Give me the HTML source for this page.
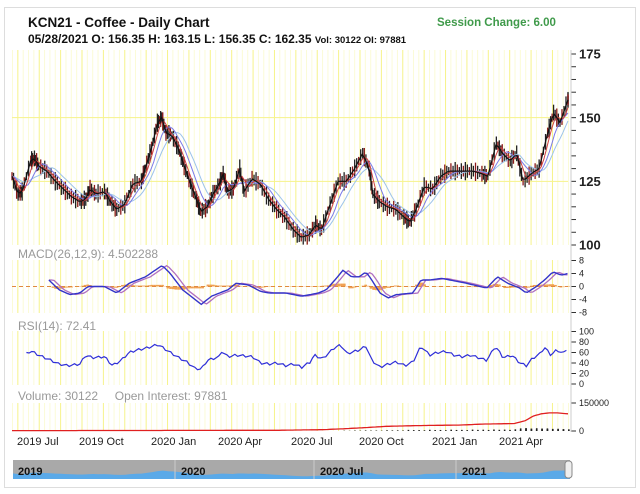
<!DOCTYPE html>
<html><head><meta charset="utf-8"><style>
body{margin:0;background:#fff;font-family:"Liberation Sans","DejaVu Sans",sans-serif;}
svg{display:block}
</style></head><body>
<svg id="c" width="640" height="494" xmlns="http://www.w3.org/2000/svg">
<rect x="4.5" y="7.5" width="631" height="480" fill="#fff" stroke="#ddd"/>
<text x="28" y="27" font-size="13.5" font-weight="bold" fill="#111">KCN21 - Coffee - Daily Chart</text>
<text x="28" y="43" font-size="12" font-weight="bold" fill="#111">05/28/2021 O: 156.35 H: 163.15 L: 156.35 C: 162.35 <tspan font-size="9.5">Vol: 30122 OI: 97881</tspan></text>
<text x="437" y="26" font-size="11.5" font-weight="bold" fill="#3f9a4a">Session Change: 6.00</text>
<g id="grid"></g>
<g id="marks"></g>
<text x="18" y="258" font-size="12" fill="#999">MACD(26,12,9): 4.502288</text>
<text x="18" y="330" font-size="12" fill="#999">RSI(14): 72.41</text>
<text x="18" y="400" font-size="12" fill="#999">Volume: 30122&#160;&#160;&#160;&#160;&#160;Open Interest: 97881</text>
<g id="axes"></g>
<g>
<rect x="13" y="460" width="557" height="19" fill="#a9a9a9"/>
<path id="navArea" fill="#5aa9e8"/>
<line x1="175" y1="460" x2="175" y2="479" stroke="#ccc"/>
<line x1="314" y1="460" x2="314" y2="479" stroke="#ccc"/>
<line x1="456" y1="460" x2="456" y2="479" stroke="#ccc"/>
<text x="18" y="475" font-size="11" font-weight="bold" fill="#111">2019</text>
<text x="181" y="475" font-size="11" font-weight="bold" fill="#111">2020</text>
<text x="320" y="475" font-size="11" font-weight="bold" fill="#111">2020 Jul</text>
<text x="462" y="475" font-size="11" font-weight="bold" fill="#111">2021</text>
<rect x="565" y="461" width="7" height="17" rx="3" fill="#eee" stroke="#888"/>
</g>
</svg>
<script>
const priceW=[0,1.15,1.9,3.5,4.2,5,6.5,8.1,9.6,11.1,12.7,13.8,14.6,15.7,17.3,18.4,19.6,21.1,22.6,24.2,24.9,26.1,27.2,28,28.8,29.9,31.1,32.2,33.4,34.5,35.3,36.5,37.6,38.8,39.5,40.3,41.4,42.6,43.4,44.9,46.4,48,49.5,51,52.6,54.1,55.6,56.8,57.9,59.5,61,62.5,64.1,65.6,66.8,67.5,68.7,70.2,71.8,73.3,74.4,75.6,77.1,78.7,80.2,81.7,83.3,84.8,86.3,87.9,89,90.6,91.7,93.2,94.4,95.6,97.1,98.6,100.2,101.3,102.5,104];
const priceV=[127,120,121,133,134,131,129,125,122,119,117,118,122,120,121,117,114,116,124,125,130,138,148,150,144,143,138,131,124,118,113,115,120,124,128,121,122,130,121,126,124,118,114,111,106,103,104,108,106,116,125,125,130,136,130,120,117,115,114,111,109,114,123,122,127,129,129,129,129,128,127,140,136,133,136,125,128,130,144,152,148,157];
const rsiW=[2.7,3.5,5,7.3,8.8,10.4,12.7,13.8,15,17.3,18.8,20.4,21.9,23.5,25,27.3,28.1,29.6,31.2,32.7,34.2,35.4,36.5,38.8,39.2,40.4,41.9,45,46.5,48.1,49.6,51.2,52.7,54.2,55.8,56.5,58.1,60.4,61.5,62.7,65,66.2,67.3,68.8,70.4,71.9,73.5,75,76.5,78.1,79.6,81.2,82.7,84.2,85.8,87.3,88.8,90.4,91.9,93.5,95,96.2,97.3,98.8,99.6,100.8,101.9,103.1,104];
const rsiV=[58,63,55,45,38,35,38,55,50,52,35,45,60,65,68,75,70,60,50,42,30,28,45,52,62,52,55,52,40,38,40,35,38,32,42,55,48,70,74,58,65,72,45,32,38,42,35,42,72,55,60,62,55,52,55,50,45,72,50,55,40,35,48,58,70,55,65,58,70];
const macdW=[6.9,8.8,10.8,12.7,14.2,17.3,19.6,21.9,25,28.1,29.6,31.9,35.4,37.3,40.4,41.9,44.2,46.5,48.1,51.2,54.2,57.3,58.8,60.4,61.9,63.5,65,66.2,67.3,68.8,70.4,71.9,75,76.5,78.1,80.4,81.9,85,88.8,90.8,92.7,95,96.2,98.1,99.6,101.2,102.7,104];
const macdV=[2,-1,-2.5,-2,0,0,-2,1,3,6.5,4,-1,-5.5,-3,-1,1,0.5,-1.5,-2,-2,-3,-2,-1,2,5,3,3,4.5,2,-2,-3.5,-2.5,-2,2,2,2.5,2,1,-0.5,3,1,-0.5,-2,0,2,4.5,3.5,4];
const oiW=[0,30,50,58,62,66,70,76,84,88,94,96,97.5,99,100.5,102,104];
const oiV=[2000,3000,4000,7000,12000,18000,25000,29000,32000,37000,40000,55000,80000,92000,97000,97000,92000];
const volW=[62,64,66,68,70,72,74,76,78,80,82,84,86,88,90,92,94,95,96,97,98,99,100,101,102,103,104];
const volV=[1500,2500,3000,2500,4000,3500,6000,5000,6500,5500,7000,6000,7500,7000,8000,7500,9000,14000,16000,12000,15000,13000,14000,11000,12000,10000,9000];
const yTicks=[100,125,150,175], macdTicks=[8,4,0,-4,-8], rsiTicks=[100,80,60,40,20,0];
const monthLabels=["2019 Jul","2019 Oct","2020 Jan","2020 Apr","2020 Jul","2020 Oct","2021 Jan","2021 Apr"];
const NS='http://www.w3.org/2000/svg';
const X=w=>12+w*(556/104);
const yP=v=>54+(175-v)*(191/75);
const yM=v=>286.5+(-v)*(52/16);
const yR=v=>384-v*0.525;
const yV=v=>431-v*(28/150000);
function el(t,a,p){const e=document.createElementNS(NS,t);for(const k in a)e.setAttribute(k,a[k]);document.getElementById(p).appendChild(e);return e;}
function interp(ws,vs,w){if(w<=ws[0])return vs[0];for(let i=1;i<ws.length;i++){if(w<=ws[i]){const t=(w-ws[i-1])/(ws[i]-ws[i-1]);return vs[i-1]+t*(vs[i]-vs[i-1]);}}return vs[vs.length-1];}
const panels=[[50,245],[260,313],[331,385],[403,431]];
for(let w=0;w<=104;w+=1){
  const x=X(w)+0.5;const strong=(w%4===1);
  panels.forEach(p=>{
    const g=el('line',{x1:x,x2:x,y1:p[0],y2:p[1],stroke:strong?'#f6f38a':'#fbfbd6','stroke-width':1},'grid');
    
    
  });
}
[125,150].forEach(v=>{const g=el('line',{x1:12,x2:568,y1:yP(v),y2:yP(v),stroke:'#f6f38a'},'grid');

});
for(let i=0;i<priceW.length;i++){
  const steps=4;
  for(let s=0;s<steps;s++){
    const w=priceW[i]+s*((i<priceW.length-1?priceW[i+1]-priceW[i]:0)/steps);
    if(w>104)continue;
    const v=interp(priceW,priceV,w);const r=1.6+((i*7+s*3)%5)*0.5;
    const c=el('line',{x1:X(w),x2:X(w),y1:yP(v+r),y2:yP(v-r),stroke:((i+s)%3===0)?'#8b1a1a':'#222','stroke-width':1.3},'marks');
    
    
  }
}
function line(ws,f,yf,color,width,name){
  let d='';for(let w=Math.max(ws[0],0);w<=104.01;w+=0.5){const v=f(w);d+=(d?'L':'M')+X(Math.min(w,104)).toFixed(1)+','+yf(v).toFixed(1);}
  const p=el('path',{d:d,fill:'none',stroke:color,'stroke-width':width},'marks');
  
  
}
function ma(n){return w=>{let s=0,c=0;for(let k=0;k<n;k++){s+=interp(priceW,priceV,Math.max(0,w-k*0.5));c++;}return s/c;};}
line(priceW,ma(10),yP,'#9cc3ea',1,'ma-long');
line(priceW,ma(6),yP,'#7a7ae8',1,'ma-mid');
line(priceW,ma(3),yP,'#d04040',1,'ma-short');
line(priceW,w=>interp(priceW,priceV,w),yP,'#111',1.2,'price-line');
const sig=w=>interp(macdW,macdV,w-0.9);
for(let w=macdW[0];w<=104;w+=0.5){
  const h=interp(macdW,macdV,w)-sig(w);
  const b=el('rect',{x:X(w),y:Math.min(yM(0),yM(h*0.5)),width:2.7,height:Math.abs(yM(h*0.5)-yM(0)),fill:'#f0a050'},'marks');
  
  
}
const z=el('line',{x1:12,x2:568,y1:yM(0),y2:yM(0),stroke:'#e08a40','stroke-dasharray':'4,3'},'marks');


line(macdW,sig,yM,'#b070c0',1.3,'macd-signal-line');
line(macdW,w=>interp(macdW,macdV,w),yM,'#3434c8',1.4,'macd-line');
line(rsiW,w=>interp(rsiW,rsiV,w)+((Math.round(w*2)%3)-1)*2,yR,'#2f2fd8',1.2,'rsi-line');
for(let i=0;i<volW.length;i++){for(let k=0;k<2;k++){const w=volW[i]+k;if(w>104)continue;
  const b=el('rect',{x:X(w),y:yV(volV[i]*(k?0.8:1)),width:1.6,height:yV(0)-yV(volV[i]*(k?0.8:1)),fill:'#222'},'marks');
  
  }}
line(oiW,w=>interp(oiW,oiV,w),yV,'#e02020',1.3,'open-interest-line');
function tick(y,label,fs,bold,name){
  const t=el('line',{x1:571,x2:576,y1:y,y2:y,stroke:'#333'},'axes');
  
  
  if(label!==null){const tx=el('text',{x:579,y:y+fs*0.36,'font-size':fs,'font-weight':bold?'bold':'normal',fill:'#222'},'axes');tx.textContent=label;
  
  }
}
for(let v=100;v<=175;v+=5){tick(yP(v),yTicks.includes(v)?String(v):null,13,true,'price-axis');}
macdTicks.forEach(v=>tick(yM(v),String(v),9,false,'macd-axis'));
rsiTicks.forEach(v=>tick(yR(v),String(v),9,false,'rsi-axis'));
tick(yV(150000),'150000',9,false,'volume-axis');tick(yV(0),'0',9,false,'volume-axis');
const ax=el('line',{x1:571,x2:571,y1:50,y2:432,stroke:'#ccc'},'axes');


const lx=[17,79,151,218,291,359,432,499];
monthLabels.forEach((m,i)=>{const t=el('text',{x:lx[i],y:445,'font-size':11,fill:'#222'},'axes');t.textContent=m;

});
let d='M13,479';for(let w=0;w<=104;w+=1){const v=interp(priceW,priceV,w);d+='L'+(13+w*557/104).toFixed(1)+','+(479-(v-80)*0.12).toFixed(1);}d+='L570,479Z';
document.getElementById('navArea').setAttribute('d',d);
</script>
</body></html>
